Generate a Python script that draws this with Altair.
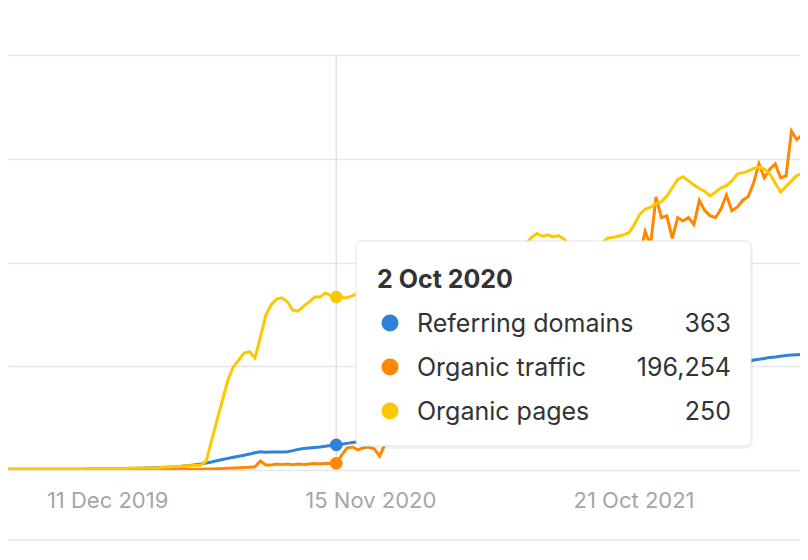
import altair as alt
import pandas as pd

# ---------------- data (weekly samples, Fridays) ----------------
first_date = "2019-08-02"
n_weeks = 150
dates = pd.date_range(first_date, periods=n_weeks, freq="7D").strftime("%Y-%m-%d").tolist()

referring_domains = [
    10, 10, 10, 10, 10, 10, 10, 10, 10, 10,
    12, 12, 12, 12, 12, 15, 15, 15, 15, 15,
    20, 20, 20, 20, 20, 25, 28, 31, 34, 37,
    40, 43, 50, 58, 66, 76, 87, 100, 115, 135,
    152, 168, 183, 198, 214, 230, 250, 265, 258, 259,
    260, 260, 265, 280, 298, 310, 318, 326, 333, 343,
    355, 363, 372, 385, 398, 408, 420, 432, 445, 458,
    472, 488, 500, 514, 531, 545, 561, 574, 590, 607,
    621, 639, 653, 671, 685, 703, 717, 735, 749, 767,
    781, 799, 813, 831, 845, 863, 877, 895, 909, 927,
    941, 959, 973, 991, 1005, 1023, 1037, 1055, 1069, 1087,
    1101, 1119, 1133, 1151, 1165, 1183, 1197, 1215, 1229, 1247,
    1261, 1279, 1293, 1311, 1325, 1343, 1357, 1375, 1389, 1407,
    1422, 1440, 1458, 1476, 1496, 1516, 1536, 1560, 1590, 1600,
    1612, 1628, 1634, 1645, 1655, 1662, 1668, 1674, 1678, 1682,
]

organic_traffic = [
    800, 800, 800, 800, 800, 800, 800, 800, 800, 800,
    1500, 1500, 1500, 1500, 1500, 1500, 1500, 1500, 1500, 1500,
    3000, 3000, 3000, 3000, 3000, 3000, 3000, 3000, 6000, 8000,
    10000, 12000, 14000, 16000, 18000, 20000, 22000, 26000, 30000, 36000,
    42000, 52000, 60000, 62000, 70000, 80000, 95000, 260000, 145000, 145000,
    173000, 160000, 173000, 150000, 170000, 160000, 175000, 185000, 172000, 195000,
    185000, 196254, 430000, 640000, 665000, 580000, 640000, 665000, 610000, 405000,
    750000, 850000, 920000, 1000000, 1100000, 1050000, 1200000, 1300000, 1250000, 1400000,
    1500000, 1450000, 1600000, 1700000, 1800000, 1750000, 1900000, 2000000, 2100000, 2050000,
    2200000, 2350000, 2300000, 2500000, 2600000, 2550000, 2750000, 2900000, 2850000, 3000000,
    3200000, 3100000, 3350000, 3500000, 3450000, 3700000, 3900000, 3800000, 4100000, 4300000,
    4200000, 4600000, 4900000, 4800000, 5300000, 5600000, 5500000, 6200000, 6900000, 6500000,
    7900000, 7300000, 7350000, 6700000, 7300000, 7200000, 7300000, 7100000, 7800000, 7500000,
    7350000, 7300000, 7550000, 7950000, 7500000, 7600000, 7800000, 7900000, 8300000, 8850000,
    8450000, 8700000, 8850000, 8450000, 8500000, 9800000, 9550000, 9700000, 7000000, 5000000,
]

organic_pages = [
    1, 1, 1, 1, 1, 1, 1, 1, 1, 1,
    1, 1, 1, 1, 1, 2, 2, 2, 2, 2,
    2, 2, 2, 3, 3, 3, 3, 3, 3, 4,
    4, 5, 5, 6, 6, 7, 7, 13, 43, 72,
    101, 130, 149, 159, 169, 171, 162, 192, 224, 239,
    247, 249, 243, 231, 230, 237, 243, 250, 250, 256,
    252, 250, 249, 249, 252, 255, 258, 262, 260, 266,
    270, 268, 274, 279, 277, 283, 288, 285, 291, 296,
    294, 300, 305, 302, 308, 312, 309, 315, 318, 316,
    320, 323, 321, 326, 328, 326, 327, 336, 342, 338,
    340, 337, 339, 334, 325, 320, 318, 322, 320, 324,
    328, 335, 336, 338, 340, 343, 355, 370, 377, 380,
    385, 388, 396, 408, 420, 424, 418, 412, 407, 403,
    396, 402, 408, 411, 418, 428, 430, 432, 436, 438,
    435, 428, 415, 402, 410, 418, 426, 428, 416, 410,
]

series_names = ["Referring domains", "Organic traffic", "Organic pages"]
series_fields = ["rd", "ot", "op"]
series_colors = ["#2f82d8", "#ff8800", "#fcc800"]
y_domains = [[0, 6000], [0, 12000000], [0, 600]]
grid_values = [0, 150, 300, 450, 600]
x_domain = ["2019-08-05", "2022-05-24"]
tick_dates = ["2019-12-11", "2020-11-15", "2021-10-21"]
hover_date = "2020-10-02"

# ---------------- layout ----------------
W, H = 792, 415
FONT = "Inter"


def dt(s):
    y, m, d = (int(p) for p in s.split("-"))
    return alt.DateTime(year=y, month=m, date=d, utc=True)


df = pd.DataFrame({"date": dates, "rd": referring_domains,
                   "ot": organic_traffic, "op": organic_pages})

hi = dates.index(hover_date)
hover_vals = [referring_domains[hi], organic_traffic[hi], organic_pages[hi]]
hover_df = pd.DataFrame({"date": [hover_date], "rd": [hover_vals[0]],
                         "ot": [hover_vals[1]], "op": [hover_vals[2]]})
ts = pd.Timestamp(hover_date)
hover_title = f"{ts.day} {ts.strftime('%b %Y')}"

xenc = alt.X(
    "date:T",
    scale=alt.Scale(type="utc", domain=[dt(s) for s in x_domain]),
    axis=alt.Axis(values=[dt(s) for s in tick_dates], format="%-d %b %Y",
                  labelFont=FONT, labelFontSize=22, labelColor="#a6a6a6",
                  labelPadding=20, ticks=False, domain=False, grid=False,
                  title=None, labelFlush=False, labelOverlap=False),
)

layers = []

# crosshair
layers.append(
    alt.Chart(pd.DataFrame({"date": [hover_date]}))
    .mark_rule(color="#e2e2e2", strokeWidth=1.5)
    .encode(x=xenc, y=alt.value(0), y2=alt.value(H))
)

# lines
for k in range(3):
    if k == 2:
        yaxis = alt.Axis(values=grid_values, grid=True, gridColor="#e6e6e6",
                         gridWidth=1.5, labels=False, ticks=False,
                         domain=False, title=None)
    else:
        yaxis = None
    layers.append(
        alt.Chart(df)
        .mark_line(color=series_colors[k], strokeWidth=3, clip=True)
        .encode(x=xenc,
                y=alt.Y(f"{series_fields[k]}:Q",
                        scale=alt.Scale(domain=y_domains[k]), axis=yaxis))
    )

# markers at hovered date
for k in range(3):
    layers.append(
        alt.Chart(hover_df)
        .mark_point(filled=True, size=160, opacity=1, color=series_colors[k])
        .encode(x=xenc,
                y=alt.Y(f"{series_fields[k]}:Q",
                        scale=alt.Scale(domain=y_domains[k]), axis=None))
    )

# bottom border line
layers.append(
    alt.Chart(pd.DataFrame({"a": [0]}))
    .mark_rule(color="#e6e6e6", strokeWidth=1.5)
    .encode(x=alt.value(0), x2=alt.value(W), y=alt.value(485))
)

# tooltip box
one = pd.DataFrame({"a": [0]})
TX0, TX1, TY0, TY1 = 348, 743, 186, 391
layers.append(
    alt.Chart(one).mark_rect(fill="#000000", opacity=0.05, cornerRadius=8)
    .encode(x=alt.value(TX0), x2=alt.value(TX1 + 2),
            y=alt.value(TY0 + 2), y2=alt.value(TY1 + 3))
)
layers.append(
    alt.Chart(one).mark_rect(fill="#ffffff", stroke="#e3e3e3", strokeWidth=1,
                             cornerRadius=6)
    .encode(x=alt.value(TX0), x2=alt.value(TX1),
            y=alt.value(TY0), y2=alt.value(TY1))
)
layers.append(
    alt.Chart(pd.DataFrame({"t": [hover_title]}))
    .mark_text(align="left", baseline="middle", font=FONT, fontSize=25,
               fontWeight="bold", color="#333333")
    .encode(x=alt.value(369), y=alt.value(225), text="t:N")
)
for k in range(3):
    yk = 269 + 44 * k
    row = pd.DataFrame({"name": [series_names[k]],
                        "val": [f"{hover_vals[k]:,}"]})
    layers.append(
        alt.Chart(row).mark_point(filled=True, size=290, opacity=1,
                                  color=series_colors[k])
        .encode(x=alt.value(382), y=alt.value(yk - 1))
    )
    layers.append(
        alt.Chart(row).mark_text(align="left", baseline="middle", font=FONT,
                                 fontSize=25, color="#333333")
        .encode(x=alt.value(409), y=alt.value(yk), text="name:N")
    )
    layers.append(
        alt.Chart(row).mark_text(align="right", baseline="middle", font=FONT,
                                 fontSize=25, color="#333333")
        .encode(x=alt.value(723), y=alt.value(yk), text="val:N")
    )

chart = (
    alt.layer(*layers)
    .resolve_scale(y="independent")
    .properties(width=W, height=H,
                padding={"left": 0, "top": 47, "right": 0, "bottom": 72},
                autosize=alt.AutoSizeParams(type="none"),
                background="#ffffff")
    .configure_view(strokeWidth=0)
)

chart.save("out.html", embed_options={"renderer": "svg", "actions": False})
